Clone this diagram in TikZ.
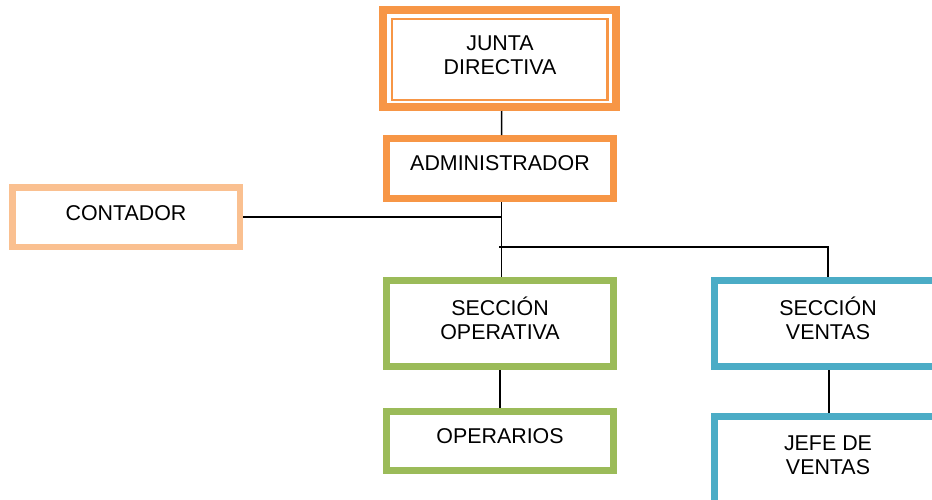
\documentclass[tikz,border=0pt]{standalone}
\usepackage{fontspec}
\setmainfont{Liberation Sans}
\definecolor{corange}{HTML}{F79646}
\definecolor{clorange}{HTML}{FAC090}
\definecolor{cgreen}{HTML}{9BBB59}
\definecolor{cblue}{HTML}{4BACC6}
\tikzset{
  box/.style={draw=#1, line width=7pt, fill=white, rectangle, inner sep=0pt, outer sep=3.5pt},
  txt/.style={align=center, inner sep=0pt, font=\fontsize{21.4}{24}\selectfont},
  conn/.style={draw=black, line width=1.5pt}
}
\begin{document}
\begin{tikzpicture}[x=1pt, y=-1pt]
\useasboundingbox (0,0) rectangle (932,499);
\clip (0,0) rectangle (932,499);
\fill[white] (0,0) rectangle (932,499);

% boxes
\node[box=corange, line width=8pt, outer sep=4pt, minimum width=233pt, minimum height=97pt] (J) at (499.5,58.5) {};
\draw[corange, line width=2.5pt] ([shift={(13,13)}]J.north west) rectangle ([shift={(-12.7,-11)}]J.south east);
\node[box=corange, minimum width=227pt, minimum height=60pt] (A) at (500,168.5) {};
\node[box=clorange, line width=6.5pt, outer sep=3.25pt, minimum width=227.5pt, minimum height=59.5pt] (C) at (126,217) {};
\node[box=cgreen, minimum width=227pt, minimum height=86pt] (SO) at (500,323.5) {};
\node[box=cgreen, minimum width=227pt, minimum height=59pt] (O) at (500,441) {};
\node[box=cblue, minimum width=227pt, minimum height=86pt] (SV) at (828,323.5) {};
\node[box=cblue, minimum width=227pt, minimum height=90pt] (JV) at (828,461.5) {};

% texts
\node[txt] (tJ) at (500,55) {JUNTA\\DIRECTIVA};
\node[txt] (tA) at (500,163) {ADMINISTRADOR};
\node[txt] (tC) at (126,213) {CONTADOR};
\node[txt] (tSO) at (500,318) {SECCIÓN\\OPERATIVA};
\node[txt] (tO) at (500,436) {OPERARIOS};
\node[txt] (tSV) at (828,318) {SECCIÓN\\VENTAS};
\node[txt] (tJV) at (828,455) {JEFE DE\\VENTAS};

% connectors
\coordinate (fork) at (499,247);
\coordinate (trunk) at (501.7,217);
\draw[conn] ([xshift=2pt]J.south) -- ([xshift=1.7pt]A.north);
\draw[conn] ([xshift=1.7pt]A.south) -- ([xshift=1.7pt]SO.north);
\draw[conn] (C.east) -- (C.east -| trunk);
\draw[conn] (fork) -- (fork -| SV.north) -- (SV.north);
\draw[conn] (SO.south) -- (O.north);
\draw[conn] ([xshift=1pt]SV.south) -- ([xshift=1pt]JV.north);
\end{tikzpicture}
\end{document}
